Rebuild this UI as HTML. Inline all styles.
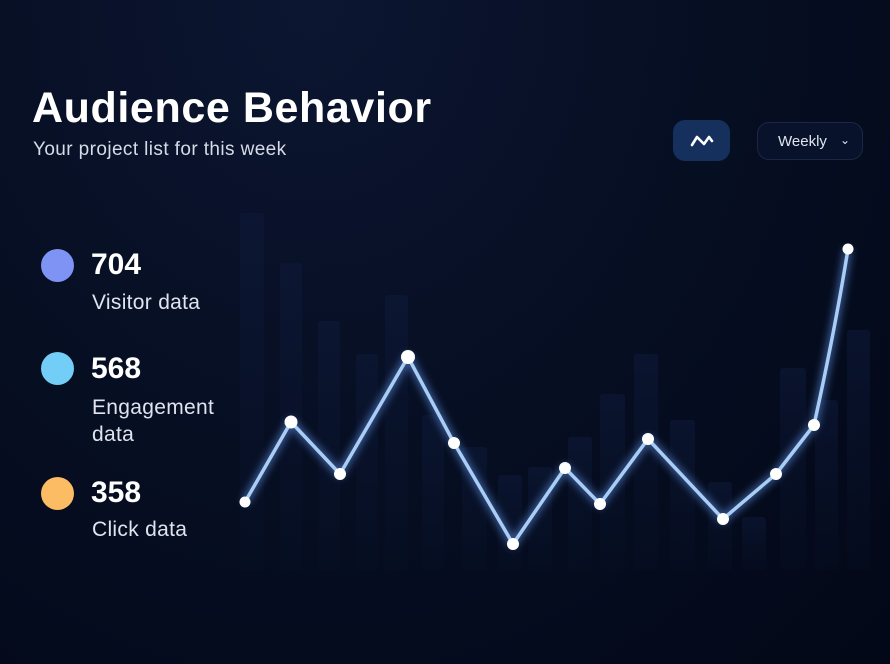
<!DOCTYPE html>
<html><head><style>
body{margin:0;width:890px;height:664px;overflow:hidden;font-family:"Liberation Sans",sans-serif;
background:radial-gradient(ellipse at 35% 0%,#0c1631 0%,#060e22 50%,#030818 100%);color:#fff;position:relative}
.t{position:absolute;left:32px;top:84px;font-size:43px;font-weight:bold;letter-spacing:0.6px}
.s{position:absolute;left:33px;top:139px;font-size:19px;color:#d5dbe8;letter-spacing:0.4px}
.btn{position:absolute;left:673px;top:120px;width:57px;height:41px;border-radius:12px;background:#15305c}
.dd{position:absolute;left:757px;top:122px;width:106px;height:38px;border-radius:12px;border:1px solid #1a2846;background:#08122a;font-size:15px;color:#e0e6f0;line-height:38px;box-sizing:border-box;padding-left:20px}
.dot{position:absolute;left:41px;width:33px;height:33px;border-radius:50%}
.n{position:absolute;left:91px;font-size:30px;font-weight:bold}
.l{position:absolute;left:92px;font-size:21px;color:#dfe4ee;line-height:27px;letter-spacing:0.3px}
</style></head><body>
<div class="t">Audience Behavior</div>
<div class="s">Your project list for this week</div>
<div class="btn"><svg width="57" height="41"><polyline points="19,25 24,17 31,24 36,17 39,21" fill="none" stroke="#fff" stroke-width="2.6" stroke-linecap="round" stroke-linejoin="round"/></svg></div>
<div class="dd">Weekly<span style="position:absolute;left:82px;top:-2px;font-size:12px">&#8964;</span></div>
<div class="dot" style="top:249px;background:#7f93f5"></div><div class="n" style="top:248px">704</div><div class="l" style="top:289px">Visitor data</div>
<div class="dot" style="top:352px;background:#72cdf7"></div><div class="n" style="top:352px">568</div><div class="l" style="top:394px">Engagement<br>data</div>
<div class="dot" style="top:477px;background:#fbbc63"></div><div class="n" style="top:476px">358</div><div class="l" style="top:516px">Click data</div>
<svg style="position:absolute;left:0;top:0" width="890" height="664">
<defs><linearGradient id="bg" x1="0" y1="0" x2="0" y2="1"><stop offset="0" stop-color="#0e1a3a" stop-opacity=".55"/><stop offset="1" stop-color="#0a142e" stop-opacity=".15"/></linearGradient>
<filter id="gl"><feGaussianBlur stdDeviation="4"/></filter></defs>
<g fill="url(#bg)">
<rect x="240" y="213" width="24" height="357" rx="3"/><rect x="280" y="263" width="22" height="307" rx="3"/>
<rect x="318" y="321" width="22" height="249" rx="3"/><rect x="356" y="354" width="22" height="216" rx="3"/>
<rect x="385" y="295" width="23" height="275" rx="3"/><rect x="422" y="415" width="22" height="155" rx="3"/>
<rect x="462" y="447" width="25" height="123" rx="3"/><rect x="498" y="475" width="24" height="95" rx="3"/>
<rect x="528" y="467" width="24" height="103" rx="3"/><rect x="568" y="437" width="24" height="133" rx="3"/>
<rect x="600" y="394" width="25" height="176" rx="3"/><rect x="634" y="354" width="24" height="216" rx="3"/>
<rect x="670" y="420" width="25" height="150" rx="3"/><rect x="708" y="482" width="24" height="88" rx="3"/>
<rect x="742" y="517" width="24" height="53" rx="3"/><rect x="780" y="368" width="26" height="202" rx="3"/>
<rect x="815" y="400" width="23" height="170" rx="3"/><rect x="847" y="330" width="23" height="240" rx="3"/>
</g>
<g fill="none" stroke-linejoin="round">
<path d="M245,502 L291,422 L340,474 L408,357 L454,443 L513,544 L565,468 L600,504 L648,439 L723,519 L776,474 L814,425 Q835,330 848,249" stroke="#5b8fe0" stroke-width="8" filter="url(#gl)" opacity=".6"/>
<path d="M245,502 L291,422 L340,474 L408,357 L454,443 L513,544 L565,468 L600,504 L648,439 L723,519 L776,474 L814,425 Q835,330 848,249" stroke="#a9cdf5" stroke-width="3.5"/>
</g>
<g fill="#fff">
<circle cx="245" cy="502" r="5.5"/><circle cx="291" cy="422" r="6.5"/><circle cx="340" cy="474" r="6"/><circle cx="408" cy="357" r="7"/>
<circle cx="454" cy="443" r="6"/><circle cx="513" cy="544" r="6"/><circle cx="565" cy="468" r="6"/><circle cx="600" cy="504" r="6"/>
<circle cx="648" cy="439" r="6"/><circle cx="723" cy="519" r="6"/><circle cx="776" cy="474" r="6"/><circle cx="814" cy="425" r="6"/><circle cx="848" cy="249" r="5.5"/>
</g>
</svg>
</body></html>
